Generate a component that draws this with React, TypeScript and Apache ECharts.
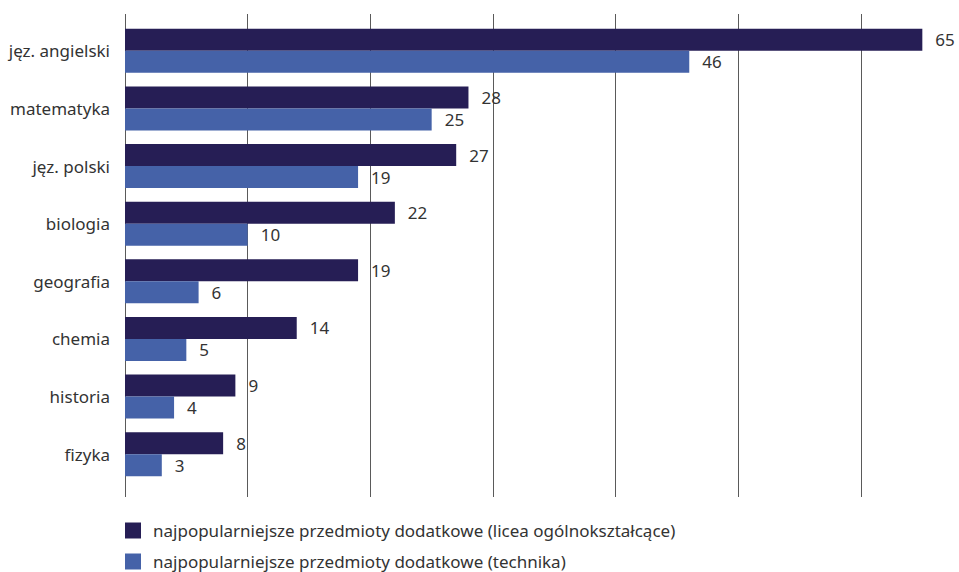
import React, { useEffect, useRef } from "react";
import * as echarts from "echarts";

// Subjects, top to bottom
const categories = [
  "jęz. angielski",
  "matematyka",
  "jęz. polski",
  "biologia",
  "geografia",
  "chemia",
  "historia",
  "fizyka",
];

const seriesNames = [
  "najpopularniejsze przedmioty dodatkowe (licea ogólnokształcące)",
  "najpopularniejsze przedmioty dodatkowe (technika)",
];

const liceaValues = [65, 28, 27, 22, 19, 14, 9, 8];
const technikaValues = [46, 25, 19, 10, 6, 5, 4, 3];

const FONT = "'Noto Sans', 'Open Sans', sans-serif";
const TEXT = "#333333";
const NAVY = "#261e55";
const BLUE = "#4562a8";
const FS = 17;

export default function App() {
  const ref = useRef<HTMLDivElement>(null);

  useEffect(() => {
    document.body.style.margin = "0";
    if (!ref.current) return;
    const chart = echarts.init(ref.current, null, { renderer: "svg" });

    const valueLabel = {
      show: true,
      position: "right" as const,
      distance: 13,
      color: TEXT,
      fontFamily: FONT,
      fontSize: FS,
    };

    chart.setOption({
      animation: false,
      textStyle: { fontFamily: FONT },
      legend: {
        orient: "vertical",
        left: 125,
        top: 522,
        padding: 0,
        itemWidth: 16,
        itemHeight: 16,
        itemGap: 14,
        icon: "rect",
        textStyle: {
          color: TEXT,
          fontSize: FS,
          lineHeight: 16,
          fontFamily: FONT,
          padding: [0, 0, 0, 7],
        },
        data: seriesNames,
      },
      grid: [
        // bars
        { left: 125, top: 22, width: 736, height: 461, containLabel: false },
        // vertical grid lines (taller than the bar area)
        { left: 125, top: 14, width: 736, height: 483, containLabel: false },
      ],
      xAxis: [
        {
          gridIndex: 0,
          type: "value",
          min: 0,
          max: 60,
          interval: 10,
          axisLine: { show: false },
          axisTick: { show: false },
          axisLabel: { show: false },
          splitLine: { show: false },
        },
        {
          gridIndex: 1,
          type: "value",
          min: 0,
          max: 60,
          interval: 10,
          axisLine: { show: false },
          axisTick: { show: false },
          axisLabel: { show: false },
          splitLine: { show: true, lineStyle: { color: "#5a5a5a", width: 1 } },
        },
      ],
      yAxis: [
        {
          gridIndex: 0,
          type: "category",
          data: categories,
          inverse: true,
          axisLine: { show: false },
          axisTick: { show: false },
          axisLabel: {
            color: TEXT,
            fontSize: FS,
            fontFamily: FONT,
            margin: 15,
          },
        },
        {
          gridIndex: 1,
          type: "category",
          data: categories,
          show: false,
        },
      ],
      series: [
        {
          name: seriesNames[0],
          type: "bar",
          xAxisIndex: 0,
          yAxisIndex: 0,
          data: liceaValues,
          barWidth: 22,
          barGap: "0%",
          clip: false,
          itemStyle: { color: NAVY },
          label: valueLabel,
        },
        {
          name: seriesNames[1],
          type: "bar",
          xAxisIndex: 0,
          yAxisIndex: 0,
          data: technikaValues,
          barWidth: 22,
          barGap: "0%",
          clip: false,
          itemStyle: { color: BLUE },
          label: valueLabel,
        },
      ],
    });

    return () => chart.dispose();
  }, []);

  return <div ref={ref} style={{ width: 959, height: 572 }} />;
}
